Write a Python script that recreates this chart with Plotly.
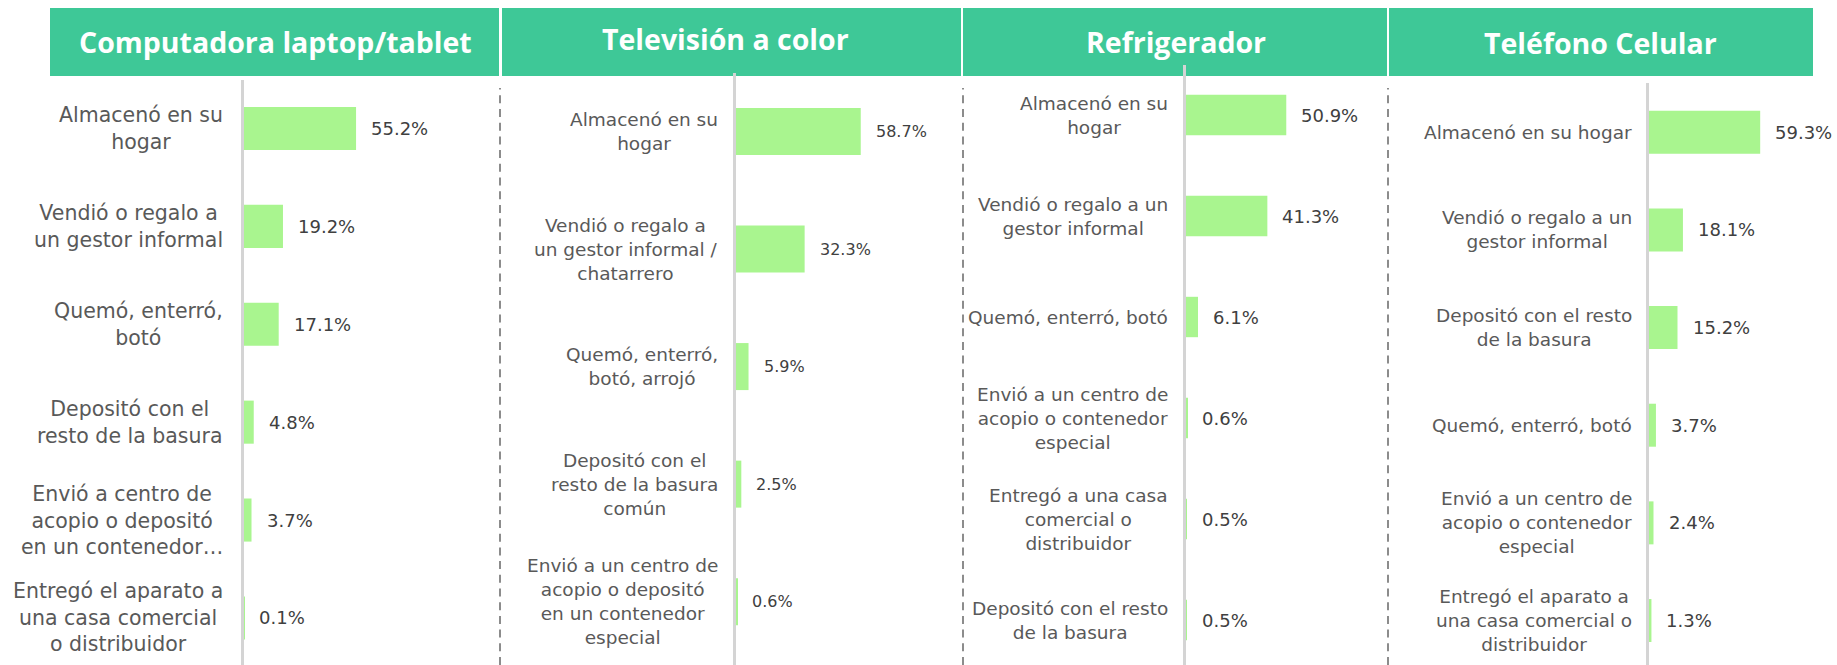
import plotly.graph_objects as go

# ---------------- data ----------------
comp_title = "Computadora laptop/tablet"
comp_labels = ["Almacenó en su<br>hogar", "Vendió o regalo a<br>un gestor informal", "Quemó, enterró,<br>botó",
               "Depositó con el<br>resto de la basura", "Envió a centro de<br>acopio o depositó<br>en un contenedor…",
               "Entregó el aparato a<br>una casa comercial<br>o distribuidor"]
comp_values = [55.2, 19.2, 17.1, 4.8, 3.7, 0.1]

tv_title = "Televisión a color"
tv_labels = ["Almacenó en su<br>hogar", "Vendió o regalo a<br>un gestor informal /<br>chatarrero",
             "Quemó, enterró,<br>botó, arrojó", "Depositó con el<br>resto de la basura<br>común",
             "Envió a un centro de<br>acopio o depositó<br>en un contenedor<br>especial"]
tv_values = [58.7, 32.3, 5.9, 2.5, 0.6]

ref_title = "Refrigerador"
ref_labels = ["Almacenó en su<br>hogar", "Vendió o regalo a un<br>gestor informal", "Quemó, enterró, botó",
              "Envió a un centro de<br>acopio o contenedor<br>especial", "Entregó a una casa<br>comercial o<br>distribuidor",
              "Depositó con el resto<br>de la basura"]
ref_values = [50.9, 41.3, 6.1, 0.6, 0.5, 0.5]

cel_title = "Teléfono Celular"
cel_labels = ["Almacenó en su hogar", "Vendió o regalo a un<br>gestor informal", "Depositó con el resto<br>de la basura",
              "Quemó, enterró, botó", "Envió a un centro de<br>acopio o contenedor<br>especial",
              "Entregó el aparato a<br>una casa comercial o<br>distribuidor"]
cel_values = [59.3, 18.1, 15.2, 3.7, 2.4, 1.3]

# ---------------- styling / layout ----------------
W, H = 1837, 665
HEADER_COLOR = "#3EC897"
BAR_COLOR = "#A9F58F"
LABEL_COLOR = "#595959"
VALUE_COLOR = "#404040"
LABEL_FONT = "DejaVu Sans"
TITLE_FONT = "Open Sans"

panels = [
    dict(title=comp_title, labels=comp_labels, values=comp_values, zero=244, scale=2.03, top=79.5, step=97.9,
         barw=0.44, lab_size=20.5, val_size=18, lab_shift=-19, header=(50, 499), title_x=275, title_y=42),
    dict(title=tv_title, labels=tv_labels, values=tv_values, zero=736, scale=2.125, top=72.7, step=117.55,
         barw=0.40, lab_size=18.5, val_size=16, lab_shift=-16, header=(502, 961), title_x=725, title_y=39),
    dict(title=ref_title, labels=ref_labels, values=ref_values, zero=1186, scale=1.97, top=64.5, step=101,
         barw=0.40, lab_size=18.5, val_size=18, lab_shift=-16, header=(963, 1387), title_x=1176, title_y=42),
    dict(title=cel_title, labels=cel_labels, values=cel_values, zero=1649, scale=1.875, top=83.4, step=97.66,
         barw=0.44, lab_size=18.5, val_size=18, lab_shift=-15, header=(1389, 1813), title_x=1600, title_y=43),
]

fig = go.Figure()
annotations = []
shapes = []
layout_axes = {}

for i, p in enumerate(panels, start=1):
    xa = "x" if i == 1 else f"x{i}"
    ya = "y" if i == 1 else f"y{i}"
    xkey = "xaxis" if i == 1 else f"xaxis{i}"
    ykey = "yaxis" if i == 1 else f"yaxis{i}"

    fig.add_trace(go.Bar(
        x=p["values"], y=p["labels"], orientation="h",
        marker=dict(color=BAR_COLOR, line=dict(width=0)),
        width=p["barw"], xaxis=xa, yaxis=ya, showlegend=False, hoverinfo="skip",
    ))

    x0 = p["zero"] / W
    x1 = min((p["zero"] + 100 * p["scale"]) / W, 1.0)
    span = (H - p["top"]) / p["step"]
    layout_axes[xkey] = dict(domain=[x0, x1], range=[0, 100], visible=False, anchor=ya, fixedrange=True)
    layout_axes[ykey] = dict(domain=[0, 1 - p["top"] / H], range=[span - 0.5, -0.5], type="category",
                             categoryorder="array", categoryarray=p["labels"],
                             showline=True, linecolor="#D4D4D4", linewidth=2.5, showgrid=False,
                             zeroline=False, showticklabels=False, ticks="", anchor=xa, fixedrange=True)

    for lab, val in zip(p["labels"], p["values"]):
        annotations.append(dict(
            x=0, y=lab, xref=xa, yref=ya, text=lab, showarrow=False, xanchor="right", yanchor="middle",
            align="center", xshift=p["lab_shift"],
            font=dict(family=LABEL_FONT, size=p["lab_size"], color=LABEL_COLOR),
        ))
        annotations.append(dict(
            x=val, y=lab, xref=xa, yref=ya, text=f"{val:.1f}%", showarrow=False, xanchor="left",
            yanchor="middle", xshift=13,
            font=dict(family=LABEL_FONT, size=p["val_size"], color=VALUE_COLOR),
        ))

    hx0, hx1 = p["header"]
    shapes.append(dict(type="rect", xref="paper", yref="paper", x0=hx0 / W, x1=hx1 / W,
                       y0=1 - 76 / H, y1=1 - 8 / H, fillcolor=HEADER_COLOR, line=dict(width=0),
                       layer="below"))
    annotations.append(dict(
        x=p["title_x"] / W, y=1 - p["title_y"] / H, xref="paper", yref="paper", text=p["title"],
        showarrow=False, xanchor="center", yanchor="middle",
        font=dict(family=TITLE_FONT, size=28.5, color="white", weight=700),
    ))

for dx in [500, 963, 1388]:
    shapes.append(dict(type="line", xref="paper", yref="paper", x0=dx / W, x1=dx / W,
                       y0=0, y1=1 - 88 / H, line=dict(color="#8C8C8C", width=2, dash="8px,5.7px"),
                       layer="above"))

fig.update_layout(
    width=W, height=H, margin=dict(l=0, r=0, t=0, b=0),
    paper_bgcolor="white", plot_bgcolor="rgba(0,0,0,0)",
    annotations=annotations, shapes=shapes, showlegend=False,
    **layout_axes,
)

fig.write_html("out.html", config={"displayModeBar": False},
               post_script="document.body.style.margin='0px';document.body.style.overflow='hidden';")
